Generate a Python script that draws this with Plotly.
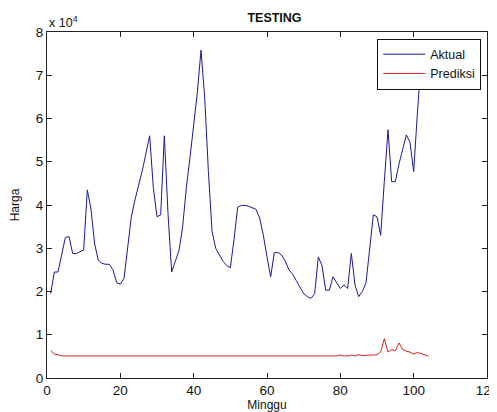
import plotly.graph_objects as go

minggu = list(range(1, 105))
aktual = [19500, 24500, 24500, 28500, 32500, 32700, 28800, 28800, 29200, 29600,
          43500, 39000, 31000, 27200, 26500, 26300, 26300, 25000, 22000, 21700,
          23000, 30000, 37300, 41200, 44500, 48000, 52000, 56000, 44000, 37300,
          37700, 56000, 38000, 24500, 27000, 29500, 35000, 44000, 51000, 58500,
          66000, 75800, 65000, 48000, 34000, 30000, 28500, 27000, 26000, 25500,
          32000, 39500, 39900, 39900, 39700, 39400, 39000, 37000, 33000, 28000,
          23400, 29000, 29000, 28400, 27000, 25000, 24000, 22500, 21000, 19500,
          18800, 18400, 19500, 28000, 26000, 20300, 20300, 23400, 22000, 20700,
          21500, 20700, 28800, 21500, 18800, 20000, 22000, 30000, 37700, 37300,
          33000, 45500, 57400, 45400, 45400, 49500, 53000, 56200, 54500, 47700,
          61000, 73000, 77000, 76000]
prediksi = [6400, 5500, 5400, 5100, 5100, 5100, 5100, 5100, 5100, 5100,
            5100, 5100, 5100, 5100, 5100, 5100, 5100, 5100, 5100, 5100,
            5100, 5100, 5100, 5100, 5100, 5100, 5100, 5100, 5100, 5100,
            5100, 5100, 5100, 5100, 5100, 5100, 5100, 5100, 5100, 5100,
            5100, 5100, 5100, 5100, 5100, 5100, 5100, 5100, 5100, 5100,
            5100, 5100, 5100, 5100, 5100, 5100, 5100, 5100, 5100, 5100,
            5100, 5100, 5100, 5100, 5100, 5100, 5100, 5100, 5100, 5100,
            5100, 5100, 5100, 5100, 5100, 5100, 5100, 5100, 5100, 5300,
            5100, 5100, 5300, 5100, 5400, 5200, 5300, 5300, 5300, 5400,
            6000, 9100, 6000, 6600, 6300, 8100, 6600, 6200, 6000, 5500,
            5900, 5600, 5300, 5100]

x_ticks = [0, 20, 40, 60, 80, 100, 120]
y_ticks = [0, 10000, 20000, 30000, 40000, 50000, 60000, 70000, 80000]
y_ticktext = ["0", "1", "2", "3", "4", "5", "6", "7", "8"]

fig = go.Figure()
fig.add_trace(go.Scatter(x=minggu, y=aktual, mode="lines", name="Aktual",
                         line=dict(color="#1a1a90", width=1)))
fig.add_trace(go.Scatter(x=minggu, y=prediksi, mode="lines", name="Prediksi",
                         line=dict(color="#d42020", width=1)))

axis_common = dict(showgrid=False, zeroline=False, showline=True, linecolor="#222",
                   linewidth=1, mirror="ticks", ticks="inside", ticklen=5,
                   tickcolor="#222", automargin=False, ticklabeloverflow="allow",
                   tickfont=dict(family="Liberation Sans", size=13.5, color="#111"))

# page body has an 8px margin; the figure is sized so it fits the 497x412 window
fig.update_layout(
    width=489, height=404,
    margin=dict(l=39, r=10, t=24, b=34),
    paper_bgcolor="white", plot_bgcolor="white",
    font=dict(family="Liberation Sans", color="#111"),
    title=dict(text="<b>TESTING</b>", x=0.545, xanchor="center", y=0.988, yanchor="top",
               pad=dict(t=0), font=dict(size=12.5, family="Liberation Sans")),
    xaxis=dict(range=[0, 120], tickvals=x_ticks, title=dict(text="Minggu", standoff=0,
               font=dict(size=12)), **axis_common),
    yaxis=dict(range=[0, 80000], tickvals=y_ticks, ticktext=y_ticktext,
               title=dict(text="Harga", standoff=30, font=dict(size=12)), **axis_common),
    legend=dict(x=0.987, y=0.981, xanchor="right", yanchor="top", bgcolor="white",
                bordercolor="#111", borderwidth=1, font=dict(size=12.5, family="Liberation Sans"),
                tracegroupgap=0, itemwidth=42),
    showlegend=True,
    annotations=[dict(text="x 10<sup>4</sup>", xref="paper", yref="paper", x=0.0, y=1.0,
                      xanchor="left", yanchor="bottom", showarrow=False,
                      font=dict(size=12.5, family="Liberation Sans"))],
)

fig.write_html("out.html")
